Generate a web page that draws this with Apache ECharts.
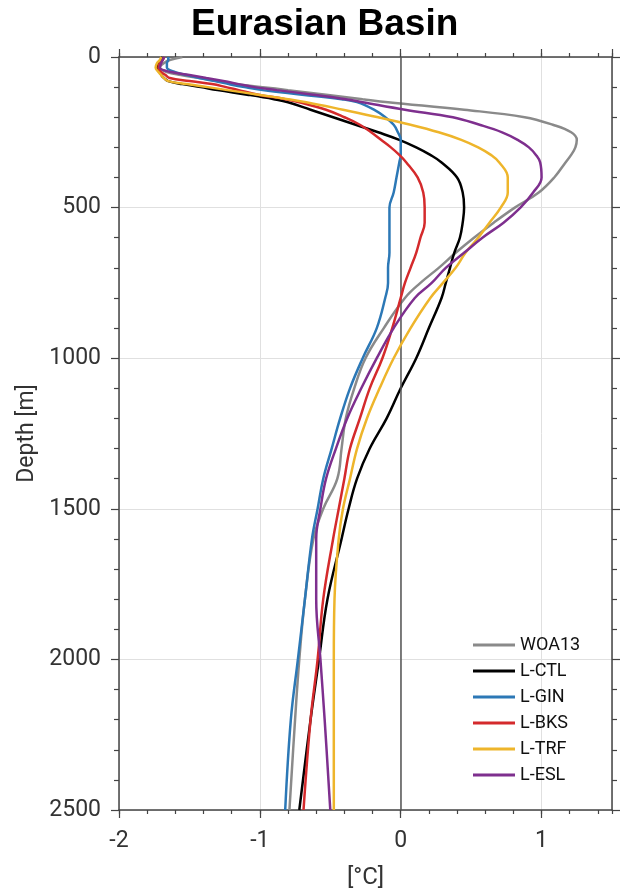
<!DOCTYPE html>
<html>
<head>
<meta charset="utf-8">
<script src="https://cdn.jsdelivr.net/npm/echarts@6/dist/echarts.min.js"></script>
<style>
  html, body { margin: 0; padding: 0; background: #fff; }
  #chart-container { width: 628px; height: 895px; }
</style>
</head>
<body>
<div id="chart-container"></div>
<script>
// profundidades [m] comunes a todos los perfiles
const depths = [0, 10, 20, 35, 50, 60, 70, 80, 90, 100, 110, 125, 140, 150, 175, 200, 225, 250, 275, 300,
  325, 350, 400, 450, 500, 550, 600, 650, 700, 750, 800, 900, 1000, 1100, 1200, 1300, 1400, 1500, 1600,
  1800, 2000, 2200, 2500];

// temperatura [°C] de cada perfil en esas profundidades
const woa13 = [-1.55, -1.64, -1.68, -1.71, -1.66, -1.56, -1.43, -1.30, -1.17, -0.98, -0.80, -0.53, -0.27, -0.09, 0.45,
  0.88, 1.08, 1.21, 1.25, 1.24, 1.21, 1.17, 1.09, 0.98, 0.81, 0.66, 0.52, 0.39, 0.27, 0.14, 0.03, -0.12, -0.25,
  -0.33, -0.39, -0.42, -0.45, -0.55, -0.62, -0.68, -0.72, -0.75, -0.79];
const lCtl = [-1.69, -1.70, -1.72, -1.73, -1.71, -1.70, -1.68, -1.65, -1.55, -1.42, -1.30, -1.09, -0.90, -0.80, -0.64,
  -0.48, -0.32, -0.16, -0.01, 0.11, 0.21, 0.29, 0.40, 0.44, 0.45, 0.44, 0.42, 0.38, 0.35, 0.32, 0.29, 0.20, 0.11,
  0.00, -0.10, -0.22, -0.31, -0.37, -0.42, -0.52, -0.58, -0.64, -0.72];
const lGin = [-1.65, -1.65, -1.66, -1.66, -1.60, -1.52, -1.43, -1.32, -1.22, -1.11, -0.98, -0.70, -0.42, -0.31, -0.19,
  -0.11, -0.05, -0.02, 0.00, 0.00, 0.00, -0.01, -0.03, -0.05, -0.08, -0.08, -0.08, -0.08, -0.09, -0.09, -0.11,
  -0.17, -0.27, -0.36, -0.43, -0.49, -0.55, -0.59, -0.63, -0.68, -0.73, -0.78, -0.82];
const lBks = [-1.68, -1.69, -1.71, -1.72, -1.70, -1.67, -1.64, -1.50, -1.34, -1.24, -1.15, -1.01, -0.82, -0.72, -0.53,
  -0.40, -0.29, -0.21, -0.14, -0.07, -0.01, 0.04, 0.12, 0.16, 0.17, 0.17, 0.14, 0.11, 0.07, 0.03, 0.00, -0.06,
  -0.13, -0.22, -0.29, -0.36, -0.40, -0.44, -0.48, -0.55, -0.59, -0.64, -0.69];
const lTrf = [-1.70, -1.71, -1.73, -1.74, -1.72, -1.70, -1.68, -1.65, -1.52, -1.37, -1.23, -1.01, -0.80, -0.67, -0.41,
  -0.16, 0.07, 0.27, 0.43, 0.55, 0.64, 0.70, 0.76, 0.76, 0.71, 0.63, 0.55, 0.46, 0.39, 0.30, 0.21, 0.07, -0.05,
  -0.15, -0.24, -0.31, -0.36, -0.41, -0.44, -0.47, -0.475, -0.475, -0.475];
const lEsl = [-1.68, -1.69, -1.70, -1.71, -1.63, -1.50, -1.38, -1.26, -1.15, -1.04, -0.88, -0.62, -0.39, -0.27, 0.03,
  0.37, 0.56, 0.72, 0.83, 0.91, 0.96, 0.99, 1.00, 0.94, 0.85, 0.73, 0.58, 0.45, 0.32, 0.22, 0.10, -0.05, -0.17,
  -0.28, -0.38, -0.46, -0.53, -0.57, -0.60, -0.60, -0.57, -0.54, -0.50];

const nombres = ['WOA13', 'L-CTL', 'L-GIN', 'L-BKS', 'L-TRF', 'L-ESL'];
const perfiles = [woa13, lCtl, lGin, lBks, lTrf, lEsl];
const colores = ['#8a8a8a', '#000000', '#2c78b6', '#d42a2c', '#eeb52b', '#7e2f8e'];

let myChart = echarts.init(document.getElementById('chart-container'), null, { renderer: 'canvas' });

const ejeColor = '#444';
const fuente = 'Roboto';

const series = perfiles.map((temps, i) => ({
  name: nombres[i],
  type: 'line',
  xAxisIndex: 0,
  yAxisIndex: 0,
  data: depths.map((d, j) => [temps[j], d]),
  showSymbol: false,
  smooth: 0.4,
  lineStyle: { color: colores[i], width: 2.5 },
  itemStyle: { color: colores[i] },
  z: 3 + i
}));

// linea vertical en 0 °C
series[0].markLine = {
  silent: true,
  symbol: 'none',
  label: { show: false },
  lineStyle: { color: '#555', width: 1.5, type: 'solid' },
  data: [{ xAxis: 0 }]
};

function ejeX(pos, intervalo, largo, conEtiquetas) {
  return {
    type: 'value',
    position: pos,
    min: -2,
    max: 1.5,
    interval: intervalo,
    axisLine: { show: intervalo === 1, onZero: false, lineStyle: { color: ejeColor, width: 1.5 } },
    axisTick: { show: true, length: largo, lineStyle: { color: ejeColor, width: 1.2 } },
    axisLabel: {
      show: conEtiquetas,
      showMaxLabel: false,
      margin: 20,
      fontFamily: fuente,
      fontSize: 23,
      color: '#333'
    },
    splitLine: { show: conEtiquetas, lineStyle: { color: '#e0e0e0', width: 1 } },
    name: conEtiquetas ? '[°C]' : '',
    nameLocation: 'middle',
    nameGap: 56,
    nameTextStyle: { fontFamily: fuente, fontSize: 24, color: '#333' }
  };
}

function ejeY(pos, conEtiquetas) {
  return {
    type: 'value',
    position: pos,
    inverse: true,
    min: 0,
    max: 2500,
    interval: 500,
    axisLine: { show: true, onZero: false, lineStyle: { color: ejeColor, width: 1.5 } },
    axisTick: { show: true, length: 8, lineStyle: { color: ejeColor, width: 1.2 } },
    minorTick: { show: true, splitNumber: 5, length: 5, lineStyle: { color: ejeColor, width: 1.2 } },
    axisLabel: {
      show: conEtiquetas,
      margin: 18,
      fontFamily: fuente,
      fontSize: 23,
      color: '#333',
      formatter: (v) => String(v)
    },
    splitLine: { show: conEtiquetas, lineStyle: { color: '#e0e0e0', width: 1 } },
    name: conEtiquetas ? 'Depth [m]' : '',
    nameLocation: 'middle',
    nameGap: 79,
    nameTextStyle: { fontFamily: fuente, fontSize: 23, color: '#333' }
  };
}

const opciones = {
  backgroundColor: '#fff',
  animation: false,
  title: {
    text: 'Eurasian Basin',
    left: 186,
    top: 1,
    textStyle: { fontFamily: 'Liberation Sans', fontWeight: 'bold', fontSize: 37, color: '#000' }
  },
  grid: { left: 119, right: 16, top: 57, bottom: 83, containLabel: false },
  legend: {
    orient: 'vertical',
    left: 468,
    top: 631,
    icon: 'rect',
    itemWidth: 42,
    itemHeight: 3,
    itemGap: 8,
    textStyle: { fontFamily: fuente, fontSize: 18, color: '#111' },
    data: nombres
  },
  xAxis: [
    ejeX('bottom', 1, 8, true),
    ejeX('bottom', 0.2, 4, false),
    ejeX('top', 1, 8, false),
    ejeX('top', 0.2, 4, false)
  ],
  yAxis: [
    ejeY('left', true),
    ejeY('right', false)
  ],
  series: series
};

myChart.setOption(opciones, true);
window.addEventListener('resize', myChart.resize);
</script>
</body>
</html>
